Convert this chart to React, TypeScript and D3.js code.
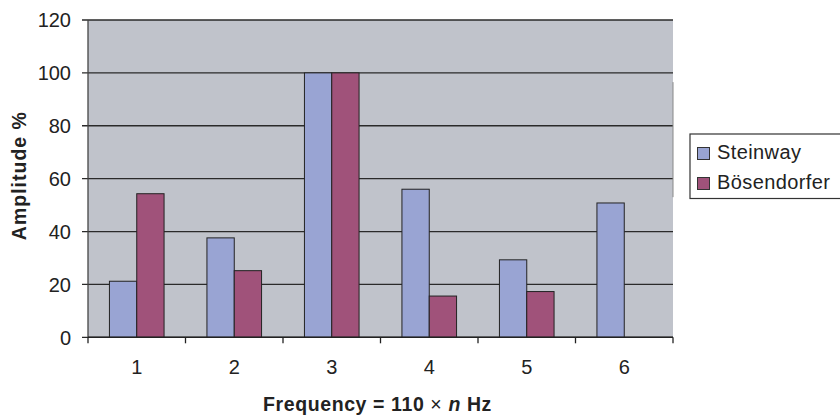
import React from "react";
import * as d3 from "d3";

const categories = ["1", "2", "3", "4", "5", "6"];
const seriesNames = ["Steinway", "Bösendorfer"];
const steinway = [21.2, 37.6, 100, 56, 29.3, 50.8];
const bosendorfer: (number | null)[] = [54.3, 25.2, 100, 15.6, 17.3, null];
const yTicks = [0, 20, 40, 60, 80, 100, 120];
const colors = ["#99a4d3", "#a0527a"];

const W = 840, H = 416;
const left = 88, right = 673, top = 20, bottom = 337.3;
const font = "'Liberation Sans', Arial, sans-serif";

export default function App() {
  const x = d3.scaleBand<string>().domain(categories).range([left, right]).padding(0);
  const x1 = d3.scaleBand<string>().domain(seriesNames).range([0, x.bandwidth()]).paddingInner(0).paddingOuter(0.785);
  const y = d3.scaleLinear().domain([0, 120]).range([bottom, top]);
  const data = [steinway, bosendorfer];
  const boundaries = categories.map((c) => x(c)!).concat([right]);

  return (
    <svg width={W} height={H} style={{ position: "absolute", left: 0, top: 0, background: "#fff" }} fontFamily={font}>
      <rect x={left} y={top} width={right - left} height={bottom - top} fill="#c0c3cb" />
      {yTicks.map((t) => (
        <g key={t}>
          <line x1={left - 6} x2={right} y1={y(t)} y2={y(t)} stroke="#2a2a2a" strokeWidth={1.3} />
          <text x={71} y={y(t)} dy="0.36em" textAnchor="end" fontSize={20} fill="#222">{t}</text>
        </g>
      ))}
      <line x1={right} x2={right} y1={y(96.5)} y2={y(53)} stroke="#888" strokeWidth={1} />
      {seriesNames.map((s, si) =>
        categories.map((c, ci) => {
          const v = data[si][ci];
          if (v == null) return null;
          return (
            <rect key={s + c} x={x(c)! + x1(s)!} y={y(v)} width={x1.bandwidth()} height={bottom - y(v)}
              fill={colors[si]} stroke="#222" strokeWidth={1} />
          );
        })
      )}
      <line x1={left} x2={left} y1={top} y2={bottom} stroke="#444" strokeWidth={1.3} />
      <line x1={left} x2={right} y1={bottom} y2={bottom} stroke="#222" strokeWidth={1.5} />
      {boundaries.map((b, i) => (
        <line key={i} x1={b} x2={b} y1={bottom} y2={bottom + 6} stroke="#222" strokeWidth={1.3} />
      ))}
      {categories.map((c) => (
        <text key={c} x={x(c)! + x.bandwidth() / 2} y={374} textAnchor="middle" fontSize={20} fill="#222">{c}</text>
      ))}
      <text x={(left + right) / 2 - 3} y={411} textAnchor="middle" fontSize={19.5} fontWeight="bold" fill="#222" letterSpacing={0.6}>
        Frequency = 110 <tspan fontWeight="normal">×</tspan> <tspan fontStyle="italic">n</tspan> Hz
      </text>
      <text transform={`translate(25.5, ${(top + bottom) / 2 - 3}) rotate(-90)`} textAnchor="middle" fontSize={19.5} fontWeight="bold" fill="#222" letterSpacing={1}>
        Amplitude %
      </text>
      <rect x={690} y={134} width={160} height={64.5} fill="#fff" stroke="#333" strokeWidth={1.2} />
      {seriesNames.map((s, i) => (
        <g key={s}>
          <rect x={697.5} y={147.5 + i * 30} width={12} height={12} fill={colors[i]} stroke="#333" strokeWidth={1} />
          <text x={717} y={158.5 + i * 30} fontSize={20} fill="#222" letterSpacing={0.4}>{s}</text>
        </g>
      ))}
    </svg>
  );
}
